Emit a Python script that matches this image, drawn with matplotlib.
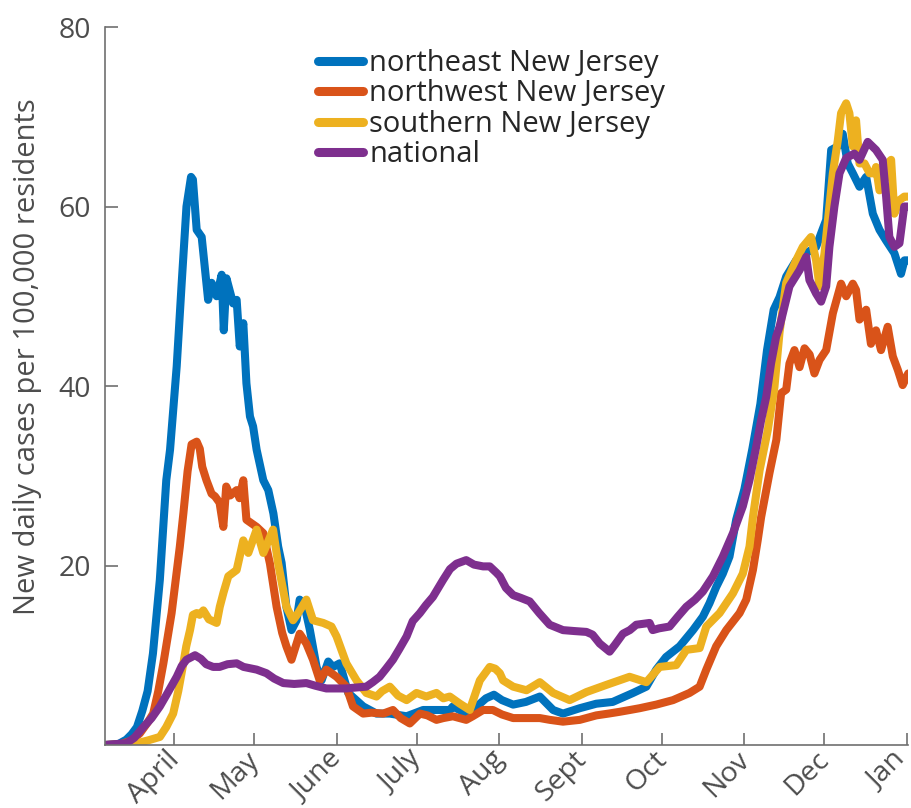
import numpy as np
import matplotlib
matplotlib.use("Agg")
import matplotlib.pyplot as plt
import matplotlib.transforms as mtransforms

plt.rcParams['font.family'] = ['Open Sans', 'DejaVu Sans']

start_date = np.datetime64('2020-03-06T00')

# day offsets from 2020-03-06 and values (new daily cases per 100,000)
ne_days = [0, 5, 8, 10, 12, 14, 16, 18, 20.6, 23, 24.4, 26.9, 28.8, 30.6, 32.3, 33, 34.4, 36.3, 38.7, 40,
           41.9, 43.8, 44.6, 45.6, 48.1, 49.4, 50.6, 51.9, 53.1, 54.4, 55.6, 56.9, 59.4, 61.3, 63.2, 65,
           66.3, 68.1, 70, 71.9, 73.1, 75, 76.9, 79.4, 81.3, 83.8, 85.6, 88.1, 91.3, 96.9, 101.9, 106.9,
           113.2, 119.4, 124.4, 129.4, 130.6, 135.6, 140.7, 143, 146, 149, 153.2, 158, 163.2, 168.2, 171.9,
           178.2, 184.4, 190.6, 198.2, 203.2, 206.9, 210.6, 215.7, 220.7, 224.4, 226.9, 229.4, 231.9,
           234.4, 236.9, 240, 243, 246, 248.5, 251, 253.2, 255.7, 259.4, 263.2, 266.9, 268.8, 270.7,
           272.6, 275.1, 276.9, 278.8, 280.7, 283.2, 285.7, 288.2, 290.7, 293.2, 296.3, 298.8, 300.1, 301.5]
ne_vals = [0, 0.1, 0.6, 1.2, 2.0, 3.8, 6.0, 10.2, 18.4, 29.5, 32.9, 42.2, 51.5, 60.0, 63.3, 63.0, 57.4, 56.6,
           49.6, 51.5, 50.0, 52.4, 46.2, 52.0, 49.2, 49.6, 44.4, 47.0, 40.3, 36.6, 35.5, 32.9, 29.5, 28.4,
           25.8, 22.1, 20.3, 15.4, 12.8, 13.9, 16.2, 15.4, 12.8, 8.7, 7.2, 9.3, 8.7, 9.1, 5.8, 4.3, 3.5, 3.5,
           3.2, 3.9, 3.9, 3.9, 4.3, 3.5, 4.6, 5.2, 5.6, 5.0, 4.5, 4.8, 5.4, 3.9, 3.5, 4.1, 4.6, 4.8, 5.8, 6.5,
           8.4, 9.8, 11.0, 12.8, 14.3, 15.8, 17.6, 19.1, 21.0, 25.1, 28.5, 33.0, 38.0, 44.0, 48.5, 49.9,
           52.2, 54.0, 54.8, 55.5, 57.0, 58.5, 66.3, 66.7, 68.1, 64.8, 63.7, 62.2, 63.3, 59.2, 57.4, 56.2,
           54.8, 52.5, 54.0, 54.0]

nw_days = [0, 6, 10, 13.1, 16, 18.1, 20, 21.9, 25, 28.1, 29.4, 31, 32.5, 34.4, 35.6, 36.5, 38.1, 40, 41.3,
           43, 44.4, 45.5, 47, 49.4, 50.5, 51.9, 53.1, 56.9, 59.4, 61.9, 64.4, 66.5, 68.1, 70, 73.1, 75.6,
           78.1, 80.6, 83.1, 86.9, 90.6, 93.1, 96.9, 100, 104.4, 108.1, 111, 114.4, 118.2, 121, 124.4, 127,
           130.6, 135.6, 138, 141.9, 145.6, 149, 153.2, 158, 163.2, 167, 171.9, 178.2, 184.4, 189, 193.2,
           197, 200.7, 206.9, 213.2, 219.4, 223.2, 225.7, 229.4, 233.2, 238.2, 240.7, 243.2, 245, 246.3,
           249.4, 252, 253.8, 255.7, 256.9, 258.8, 260.7, 262.6, 264.5, 266.3, 268.2, 270.7, 273.2, 276.3,
           278.2, 280.7, 281.9, 283.2, 285.7, 287.5, 289.4, 291.3, 293.8, 295.7, 297.6, 299.4, 301.5]
nw_vals = [0, 0.1, 0.5, 1.3, 2.5, 3.5, 6.0, 9.1, 14.7, 22.1, 25.8, 30.5, 33.5, 33.8, 33.0, 31.0, 29.5, 28.0,
           27.7, 27.0, 24.3, 28.8, 27.8, 28.4, 27.5, 29.5, 25.1, 24.3, 23.6, 20.2, 15.4, 12.5, 11.0, 9.5,
           12.4, 11.3, 9.5, 7.2, 8.4, 7.6, 6.5, 4.3, 3.5, 3.6, 3.5, 3.9, 3.0, 2.4, 3.5, 3.3, 2.8, 3.0, 3.2,
           2.8, 3.2, 3.9, 3.9, 3.4, 3.0, 3.0, 3.0, 2.8, 2.6, 2.8, 3.3, 3.5, 3.7, 3.9, 4.1, 4.5, 5.0, 5.8,
           6.5, 8.4, 11.0, 12.8, 14.7, 16.2, 19.5, 22.8, 25.4, 30.3, 34.0, 39.2, 39.6, 42.5, 44.0, 42.1,
           44.2, 43.5, 41.4, 42.9, 44.0, 48.1, 51.4, 50.0, 51.4, 50.7, 47.4, 48.5, 44.7, 46.2, 44.0, 46.6,
           43.3, 41.8, 40.1, 41.4]

s_days = [0, 8, 12, 16, 20.6, 23, 25.6, 27.5, 29.4, 30.5, 31.9, 33, 34.4, 35.5, 36.9, 39, 41.9, 43.1, 44.5,
          46.3, 49.4, 51.9, 53.8, 56.9, 59.4, 61, 63.1, 65, 68.1, 70.6, 72.5, 75.6, 78.1, 81.9, 85, 86.9,
          90.6, 94.4, 98.1, 101.9, 104, 106.9, 110, 113.2, 116.9, 120.6, 124.4, 127, 129.4, 133.2, 136.9,
          140.7, 144.4, 146.5, 148.2, 149.4, 153.2, 158.2, 163.2, 168.2, 174.4, 180.7, 188.2, 196.9, 203.2,
          208.2, 214.4, 218.2, 223.2, 225.7, 230.7, 235.7, 239.4, 241.9, 243.2, 245.7, 248.8, 251.3, 253.2,
          255.7, 259.4, 261.9, 265, 266.9, 268.2, 270.1, 273.2, 275.1, 276.3, 278.2, 279.4, 280.7, 281.9,
          283.2, 285.1, 287, 288.8, 289.4, 290.7, 292.6, 293.8, 295.1, 296.3, 298.2, 300, 301.5]
s_vals = [0, 0, 0.2, 0.5, 0.9, 2.0, 3.5, 6.0, 9.1, 11.0, 12.8, 14.5, 14.7, 14.5, 15.0, 14.0, 13.6, 15.4, 17.0,
          18.8, 19.5, 22.8, 21.4, 24.0, 21.4, 22.5, 24.0, 20.2, 15.4, 13.9, 14.7, 16.2, 13.9, 13.6, 13.2,
          12.1, 9.1, 7.2, 5.8, 5.4, 6.0, 6.5, 5.5, 5.0, 5.8, 5.4, 5.8, 5.2, 5.4, 4.6, 3.9, 7.2, 8.7, 8.5,
          8.0, 7.2, 6.5, 6.1, 7.0, 5.8, 5.0, 5.9, 6.7, 7.6, 7.0, 8.7, 8.9, 10.6, 10.8, 13.2, 14.7, 16.9,
          19.1, 22.1, 25.4, 30.6, 35.1, 39.9, 46.0, 51.5, 54.0, 55.5, 56.6, 54.0, 51.1, 54.8, 63.7, 67.4,
          70.4, 71.5, 70.4, 66.7, 69.6, 64.8, 64.8, 63.7, 63.7, 64.4, 61.8, 63.0, 64.8, 65.2, 59.2, 60.7,
          61.1, 61.1]

us_days = [0, 8.1, 11, 14.4, 17.5, 20.6, 23.5, 26.9, 28.8, 30.6, 33.8, 36, 38, 40.6, 43, 46, 49.4, 52, 56.9,
           60.6, 63.5, 66.9, 71, 75.6, 79, 83.1, 86.5, 90.6, 94, 98.1, 100.5, 103.1, 105.5, 108.1, 110.5,
           113.2, 115.5, 118.2, 120.5, 123.1, 126.9, 129.5, 131.9, 135.6, 138.5, 141.9, 144.4, 146.9, 148.2,
           150.5, 153.2, 156, 159.4, 163, 166.9, 171.9, 176, 180.7, 183, 185.7, 189.4, 191.5, 194.4, 197,
           199.4, 204.4, 205.6, 208, 211.9, 215, 218.2, 221.5, 224.4, 228.2, 231.9, 235.7, 239.4, 241.9,
           244.4, 246.3, 248.2, 250, 251.9, 253.2, 256.9, 260.7, 263.2, 264.4, 266.9, 268.8, 270.7, 271.9,
           273.8, 275.7, 278.2, 281.3, 283.2, 286.3, 289.4, 291.9, 293.2, 294.4, 296.3, 298.2, 300, 301.5]
us_vals = [0, 0.2, 0.8, 2.0, 3.0, 4.3, 5.8, 7.6, 8.8, 9.5, 10.0, 9.6, 9.0, 8.7, 8.7, 9.0, 9.1, 8.7, 8.4, 8.0,
           7.4, 6.9, 6.8, 6.9, 6.6, 6.3, 6.3, 6.3, 6.4, 6.5, 7.0, 7.6, 8.5, 9.5, 10.7, 12.1, 13.8, 14.7,
           15.6, 16.5, 18.4, 19.6, 20.2, 20.6, 20.1, 19.9, 19.9, 19.2, 18.8, 17.5, 16.7, 16.4, 16.0, 14.7,
           13.4, 12.8, 12.7, 12.6, 12.3, 11.3, 10.4, 11.2, 12.4, 12.8, 13.4, 13.6, 12.8, 13.0, 13.2, 14.3,
           15.4, 16.2, 17.1, 18.8, 21.0, 23.6, 26.6, 29.5, 33.2, 36.2, 38.8, 42.5, 45.5, 46.6, 51.1, 52.9,
           54.4, 51.8, 50.3, 49.4, 51.1, 55.5, 60.0, 63.7, 65.4, 65.9, 65.2, 67.2, 66.3, 65.2, 61.1, 56.6,
           55.5, 55.9, 60.0, 60.0]

series_names = ['northeast New Jersey', 'northwest New Jersey', 'southern New Jersey', 'national']
series_colors = ['#0072BD', '#D95319', '#EDB120', '#7E2F8E']

month_ticks = ['2020-04-01', '2020-05-01', '2020-06-01', '2020-07-01', '2020-08-01',
               '2020-09-01', '2020-10-01', '2020-11-01', '2020-12-01', '2021-01-01']
month_labels = ['April', 'May', 'June', 'July', 'Aug', 'Sept', 'Oct', 'Nov', 'Dec', 'Jan']
y_ticks = [20, 40, 60, 80]


def to_dates(days):
    hrs = np.round(np.asarray(days, dtype=float) * 24).astype('timedelta64[h]')
    return (start_date + hrs).astype('datetime64[s]').astype(object)


def dt(s):
    return np.datetime64(s).astype('datetime64[s]').astype(object)


fig = plt.figure(figsize=(9.11, 8.08), dpi=100)
ax = fig.add_axes([105 / 911, 1 - 745 / 808, (908 - 105) / 911, (745 - 27) / 808])

axis_gray = '#707070'
text_gray = '#4d4d4d'

all_days = [ne_days, nw_days, s_days, us_days]
all_vals = [ne_vals, nw_vals, s_vals, us_vals]
lines = []
for d, v, name, c in zip(all_days, all_vals, series_names, series_colors):
    ln, = ax.plot(to_dates(d), v, color=c, lw=5.8, label=name,
                  solid_joinstyle='round', solid_capstyle='round')
    lines.append(ln)

ax.set_ylim(0, 80)
ax.set_xlim(dt('2020-03-06T00'), dt('2021-01-01T10'))
ax.set_yticks(y_ticks)
ax.set_xticks([dt(t) for t in month_ticks])
ax.set_xticklabels(month_labels, rotation=45, ha='right', va='top', rotation_mode='anchor')

ax.spines['top'].set_visible(False)
ax.spines['right'].set_visible(False)
for sp in ['left', 'bottom']:
    ax.spines[sp].set_color(axis_gray)
    ax.spines[sp].set_linewidth(1.2)
ax.tick_params(axis='both', direction='in', length=9, width=1.2, color=axis_gray,
               labelcolor=text_gray, labelsize=20.5)
ax.tick_params(axis='y', pad=10)
ax.tick_params(axis='x', pad=1)

xlabels = ax.get_xticklabels()
for i, lab in enumerate(xlabels):
    dx = -9 if i < len(xlabels) - 1 else -16
    offset = mtransforms.ScaledTranslation(dx / 100, 1 / 100, fig.dpi_scale_trans)
    lab.set_transform(lab.get_transform() + offset)

ax.set_ylabel('New daily cases per 100,000 residents', fontsize=21, color=text_gray)
ax.yaxis.set_label_coords((42 - 105) / 803, (745 - 357) / 718)

leg = fig.legend(handles=lines, loc='upper left', bbox_to_anchor=(318 / 911, 1 - 49 / 808),
                 frameon=False, fontsize=21, handlelength=1.55, handletextpad=0.2,
                 labelspacing=0.05, borderpad=0, borderaxespad=0)
for t in leg.get_texts():
    t.set_color('#262626')
for h in leg.legend_handles:
    h.set_linewidth(6.5)

fig.savefig('out.png', dpi=100)
